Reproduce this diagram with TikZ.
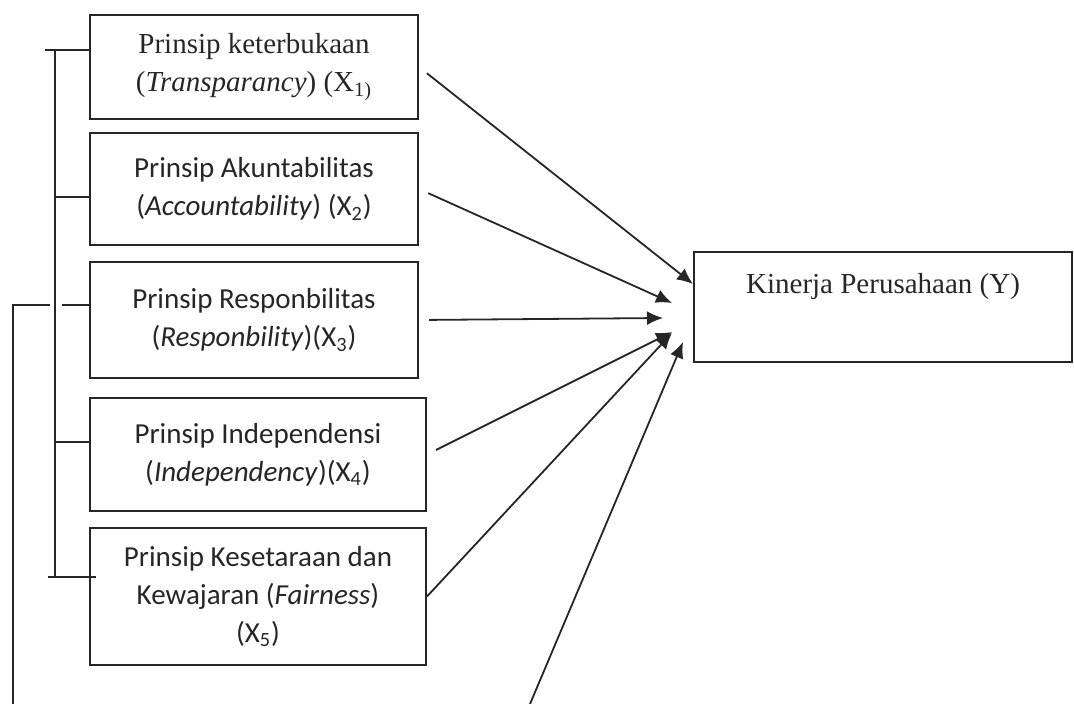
\documentclass[tikz,border=0pt]{standalone}
\usepackage{fontspec}
\setmainfont{Liberation Serif}
\newfontfamily\calibri{Carlito}
\usetikzlibrary{arrows.meta}
\definecolor{ink}{RGB}{38,38,38}
\tikzstyle{block} = [draw=ink, line width=1pt, rectangle, align=center, inner sep=0pt, text=ink]
\tikzstyle{cblock} = [block, font=\calibri\fontsize{14.5}{19}\selectfont]
\tikzstyle{line} = [draw=ink, line width=0.9pt]

\begin{document}
\begin{tikzpicture}[x=0.5pt, y=-0.5pt, >={Latex[length=8pt,width=7pt]},
    font=\fontsize{14.5}{19}\selectfont]
    \useasboundingbox (0,0) rectangle (1074,704);
    % Drawing blocks and nodes
    \node [block, minimum width=164pt, minimum height=52pt] (X1) at (254,67)
        {Prinsip keterbukaan\\(\textit{Transparancy}) (X\textsubscript{1)}};
    \node [cblock, minimum width=164pt, minimum height=56pt] (X2) at (254,189)
        {Prinsip Akuntabilitas\\(\textit{Accountability}) (X\textsubscript{2})};
    \node [cblock, minimum width=164pt, minimum height=58pt] (X3) at (254,320)
        {Prinsip Responbilitas\\(\textit{Responbility})(X\textsubscript{3})};
    \node [cblock, minimum width=168pt, minimum height=56.5pt] (X4) at (258,454.5)
        {Prinsip Independensi\\(\textit{Independency})(X\textsubscript{4})};
    \node [cblock, minimum width=168pt, minimum height=68.5pt] (X5) at (258,596.5)
        {Prinsip Kesetaraan dan\\Kewajaran (\textit{Fairness})\\(X\textsubscript{5})};
    \node [block, minimum width=189pt, minimum height=55pt] (Y) at (883,307)
        {Kinerja Perusahaan (Y)\\[5pt]\mbox{}};

    % Bracket points
    \coordinate (t1) at (45,50);
    \coordinate (b1) at (55,50);
    \coordinate (t2) at (55,197);
    \coordinate (t3) at (62,305);
    \coordinate (t4) at (55,442);
    \coordinate (b5) at (55,577);
    \coordinate (t5) at (48,577);
    \coordinate (o1) at (13,704);
    \coordinate (o2) at (50,305);
    \coordinate (low) at (530,704);

    % Arrow ends at Y
    \coordinate (in1) at (693,284);
    \coordinate (in2) at (672,303);
    \coordinate (in3) at (663,318);
    \coordinate (in4) at (672,332);
    \coordinate (in5) at (672,333);
    \coordinate (in6) at (683,342);

    % Connectors
    \draw [line] (b1) -- (b5);
    \draw [line] (t1) -- (X1.west |- t1);
    \draw [line] (t2) -- (X2.west |- t2);
    \draw [line] (t3) -- (X3.west |- t3);
    \draw [line] (t4) -- (X4.west |- t4);
    \draw [line] (t5) -- ([xshift=3.5pt]X5.west |- t5);
    \draw [line] (o1) |- (o2);

    \draw [line, ->, shorten <=5pt] (X1.east) -- (in1);
    \draw [line, ->, shorten <=5pt] (X2.east) -- (in2);
    \draw [line, ->, shorten <=5pt] (X3.east) -- (in3);
    \draw [line, ->, shorten <=5pt] (X4.east) -- (in4);
    \draw [line, ->] (X5.east) -- (in5);
    \draw [line, ->] (low) -- (in6);
\end{tikzpicture}
\end{document}
